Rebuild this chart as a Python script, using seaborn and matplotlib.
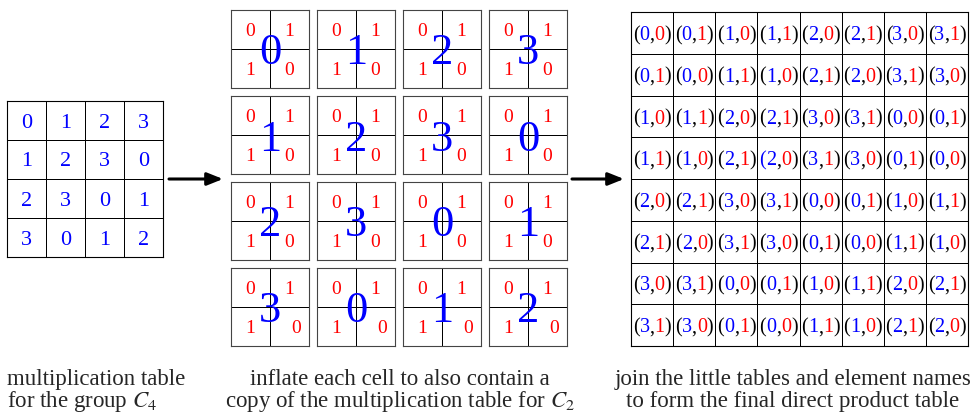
import matplotlib
matplotlib.use("Agg")
import matplotlib.pyplot as plt
from matplotlib.colors import ListedColormap
import seaborn as sns
import numpy as np

# group tables
c4_table = [[0, 1, 2, 3],
            [1, 2, 3, 0],
            [2, 3, 0, 1],
            [3, 0, 1, 2]]
c2_table = [[0, 1],
            [1, 0]]

# direct product table: first (C4) and second (C2) element of every pair
product_first = [[0, 0, 1, 1, 2, 2, 3, 3],
                 [0, 0, 1, 1, 2, 2, 3, 3],
                 [1, 1, 2, 2, 3, 3, 0, 0],
                 [1, 1, 2, 2, 3, 3, 0, 0],
                 [2, 2, 3, 3, 0, 0, 1, 1],
                 [2, 2, 3, 3, 0, 0, 1, 1],
                 [3, 3, 0, 0, 1, 1, 2, 2],
                 [3, 3, 0, 0, 1, 1, 2, 2]]
product_second = [[0, 1, 0, 1, 0, 1, 0, 1],
                  [1, 0, 1, 0, 1, 0, 1, 0],
                  [0, 1, 0, 1, 0, 1, 0, 1],
                  [1, 0, 1, 0, 1, 0, 1, 0],
                  [0, 1, 0, 1, 0, 1, 0, 1],
                  [1, 0, 1, 0, 1, 0, 1, 0],
                  [0, 1, 0, 1, 0, 1, 0, 1],
                  [1, 0, 1, 0, 1, 0, 1, 0]]

caption_left = ["multiplication table", r"for the group $C_4$"]
caption_mid = ["inflate each cell to also contain a",
               r"copy of the multiplication table for $C_2$"]
caption_right = ["join the little tables and element names",
                 "to form the final direct product table"]

BLUE = "#0000ff"
RED = "#ff0000"
W, H = 980, 417

sns.set_style("white")
plt.rcParams['font.family'] = ['Liberation Serif', 'DejaVu Serif']
plt.rcParams['mathtext.fontset'] = 'stix'

fig = plt.figure(figsize=(W / 100, H / 100), dpi=100)
white = ListedColormap(['white'])
LW = 0.6


def px_axes(x0, y0, w, h):
    # axes placed in pixel coords measured from the top-left corner
    return fig.add_axes([x0 / W, 1 - (y0 + h) / H, w / W, h / H])


def grid(ax, data, annot, color=None, size=12, border='black'):
    sns.heatmap(np.array(data), ax=ax, cmap=white, cbar=False, vmin=0, vmax=3,
                annot=annot, fmt='d',
                annot_kws=dict(color=color, fontsize=size, va='center_baseline'),
                linewidths=LW, linecolor='black',
                xticklabels=False, yticklabels=False)
    for s in ax.spines.values():
        s.set_visible(True)
        s.set_linewidth(LW + 0.2)
        s.set_color(border)


# overlay for the arrows
ov = fig.add_axes([0, 0, 1, 1])
ov.set_xlim(0, W)
ov.set_ylim(H, 0)
ov.axis('off')
for x0, x1 in [(169, 223), (572, 624)]:
    ov.annotate('', xy=(x1, 179), xytext=(x0, 179),
                arrowprops=dict(arrowstyle='-|>,head_length=0.95,head_width=0.38',
                                mutation_scale=10, lw=2.2, color='black',
                                shrinkA=0, shrinkB=0))

# 1. C4 multiplication table
ax = px_axes(7, 101, 156, 156)
grid(ax, c4_table, True, BLUE, 16)

# 2. inflated cells, each holding a copy of the C2 table
for i in range(4):
    for j in range(4):
        ax = px_axes(231 + 86 * j, 10 + 86 * i, 78, 78)
        grid(ax, c2_table, True, RED, 14, border='#444444')
        if i == 3:
            t = ax.texts[-1]
            x, y = t.get_position()
            t.set_position((x + 0.17, y))
        ax.text(1, 1, str(c4_table[i][j]), color=BLUE, fontsize=32,
                ha='center', va='center_baseline')

# 3. direct product table with two-coloured pairs
ax = px_axes(631, 12, 337, 334)
grid(ax, np.zeros((8, 8), dtype=int), False)
fs = 14.5
for r in range(8):
    for c in range(8):
        a, b = product_first[r][c], product_second[r][c]
        full = ax.text(c + 0.5, r + 0.5, f"({a},{b})", alpha=0, fontsize=fs,
                       ha='center', va='center_baseline')
        paren = BLUE if (r, c) == (3, 3) else 'black'
        pieces = [("(", paren), (str(a), BLUE), (",", 'black'),
                  (str(b), RED), (")", 'black')]
        prev = full
        for k, (s, col) in enumerate(pieces):
            prev = ax.annotate(s, xy=(0, 0) if k == 0 else (1, 0), xycoords=prev,
                               ha='left', va='bottom', color=col, fontsize=fs)

# 4. captions
cap_fs = 16.5
for k, yb in enumerate([385, 407]):
    fig.text(7 / W, 1 - yb / H, caption_left[k], ha='left', va='baseline', fontsize=cap_fs)
    fig.text(400 / W, 1 - yb / H, caption_mid[k], ha='center', va='baseline', fontsize=cap_fs)
    fig.text(793 / W, 1 - yb / H, caption_right[k], ha='center', va='baseline', fontsize=cap_fs)

fig.savefig("out.png", dpi=100)
